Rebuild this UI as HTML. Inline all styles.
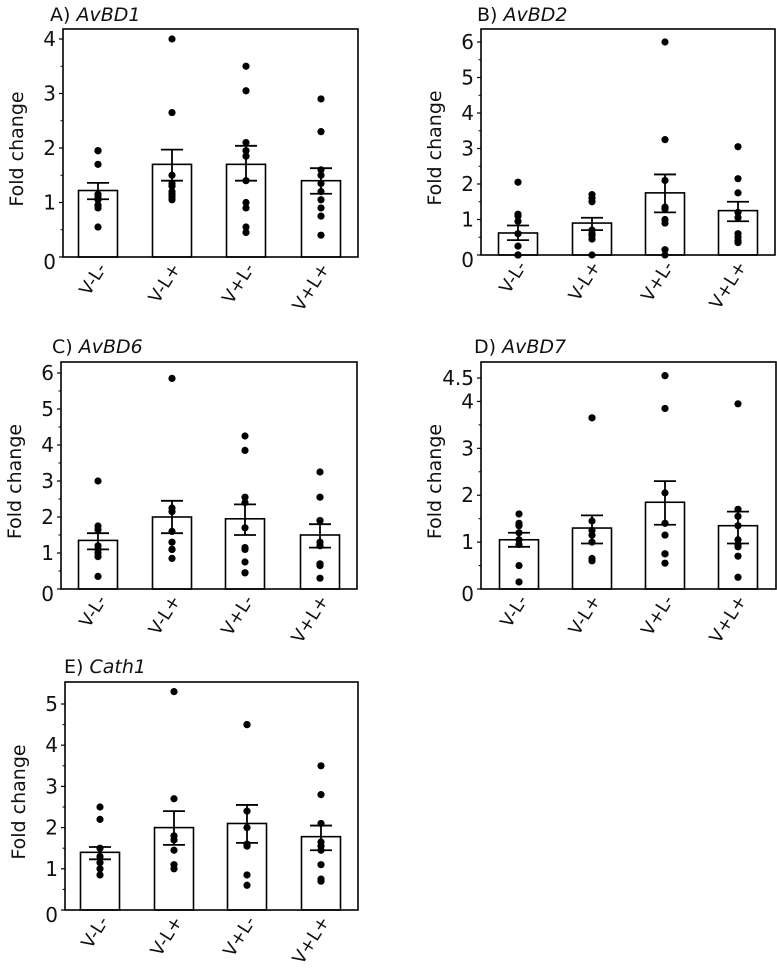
<!DOCTYPE html>
<html><head><meta charset="utf-8"><style>
html,body{margin:0;padding:0;background:#fff;}
svg{display:block;font-family:"DejaVu Sans","Liberation Sans",sans-serif;}
</style></head><body>
<svg id="chart" width="777" height="968" viewBox="0 0 777 968" xmlns="http://www.w3.org/2000/svg"></svg>
<script>
const categories = ["V-L-","V-L+","V+L-","V+L+"];
const panelLetters = ["A)","B)","C)","D)","E)"];
const geneNames = ["AvBD1","AvBD2","AvBD6","AvBD7","Cath1"];
const yTicksA = [0,1,2,3,4];
const yTicksB = [0,1,2,3,4,5,6];
const yTicksC = [0,1,2,3,4,5,6];
const yTicksD = [0,1,2,3,4,4.5];
const yTicksE = [0,1,2,3,4,5];
const meansA = [1.22,1.7,1.7,1.4];
const errLoA = [1.06,1.4,1.4,1.16];
const errHiA = [1.36,1.97,2.04,1.63];
const pointsA = [[1.95,1.95,1.7,1.15,1.1,1.05,0.95,0.9,0.55],[4.0,2.65,1.5,1.35,1.3,1.2,1.15,1.1,1.05],[3.5,3.05,2.1,1.95,1.85,1.4,1.0,0.9,0.55,0.45],[2.9,2.3,1.6,1.5,1.35,1.2,1.05,0.9,0.75,0.4]];
const meansB = [0.62,0.9,1.75,1.25];
const errLoB = [0.42,0.7,1.2,0.95];
const errHiB = [0.83,1.05,2.27,1.5];
const pointsB = [[2.05,1.15,1.1,0.95,0.6,0.25,0,0,0],[1.7,1.6,1.5,0.7,0.6,0.55,0.45,0],[6.0,3.25,2.1,1.35,1.3,1.0,0.9,0.15,0],[3.05,2.15,1.75,1.2,1.05,0.6,0.5,0.4,0.35]];
const meansC = [1.35,2.0,1.95,1.5];
const errLoC = [1.1,1.55,1.5,1.15];
const errHiC = [1.55,2.45,2.35,1.8];
const pointsC = [[3.0,1.75,1.65,1.2,1.1,1.0,0.9,0.35],[5.85,2.25,2.15,1.6,1.3,1.1,1.1,0.85],[4.25,3.85,2.55,2.4,1.7,1.15,1.1,0.75,0.45,0.45],[3.25,2.55,1.9,1.9,1.3,1.2,0.7,0.65,0.3]];
const meansD = [1.05,1.3,1.85,1.35];
const errLoD = [0.9,0.97,1.37,0.97];
const errHiD = [1.2,1.57,2.3,1.65];
const pointsD = [[1.6,1.4,1.35,1.2,1.05,0.95,0.5,0.15],[3.65,1.45,1.25,1.15,1.0,0.65,0.6],[4.55,3.85,2.05,1.4,1.15,0.75,0.75,0.55],[3.95,1.7,1.55,1.35,1.05,0.95,0.9,0.7,0.25]];
const meansE = [1.4,2.0,2.1,1.78];
const errLoE = [1.23,1.58,1.63,1.45];
const errHiE = [1.53,2.4,2.55,2.05];
const pointsE = [[2.5,2.2,1.5,1.3,1.15,1.0,0.85],[5.3,2.7,1.8,1.7,1.45,1.1,1.0],[4.5,4.5,2.4,2.0,1.6,1.55,0.85,0.6],[3.5,2.8,2.1,1.65,1.55,1.45,1.1,0.75,0.7]];

const NS="http://www.w3.org/2000/svg";
const svg=document.getElementById('chart');
function mk(tag,attrs,parent){const e=document.createElementNS(NS,tag);for(const k in attrs)e.setAttribute(k,attrs[k]);(parent||svg).appendChild(e);return e;}

const layouts=[
 {x0:63,x1:358,top:29,zero:257,tickTop:39,tMax:4,titleX:50,titleY:21,centers:[98,172,246,321]},
 {x0:481,x1:775,top:29,zero:255,tickTop:42,tMax:6,titleX:477,titleY:21,centers:[518,592,665,738]},
 {x0:61,x1:357,top:362,zero:589,tickTop:373,tMax:6,titleX:52,titleY:353,centers:[98,172,245,320]},
 {x0:481,x1:776,top:362,zero:589,tickTop:378,tMax:4.5,titleX:474,titleY:353,centers:[519,592,665,738]},
 {x0:65,x1:358,top:682,zero:910,tickTop:704,tMax:5,titleX:64,titleY:673,centers:[100,174,247,321]}
];
const ticksAll=[yTicksA,yTicksB,yTicksC,yTicksD,yTicksE];
const meansAll=[meansA,meansB,meansC,meansD,meansE];
const loAll=[errLoA,errLoB,errLoC,errLoD,errLoE];
const hiAll=[errHiA,errHiB,errHiC,errHiD,errHiE];
const ptsAll=[pointsA,pointsB,pointsC,pointsD,pointsE];

layouts.forEach((L,p)=>{
  const g=mk('g',{});
  
  
  const y=v=>L.zero-(L.zero-L.tickTop)*v/L.tMax;
  const xb=i=>L.centers[i];
  const t=mk('text',{x:L.titleX,y:L.titleY,'font-size':19,fill:'#111'},g);
  
  
  const t1=mk('tspan',{},t);t1.textContent=panelLetters[p]+' ';
  const t2=mk('tspan',{'font-style':'italic'},t);t2.textContent=geneNames[p];
  meansAll[p].forEach((m,i)=>{
    const r=mk('rect',{x:xb(i)-19.5,y:y(m),width:39,height:L.zero-y(m),fill:'#fff',stroke:'#000','stroke-width':1.6},g);
    
    
  });
  ptsAll[p].forEach((arr,i)=>{arr.forEach(v=>{
    const c=mk('circle',{cx:xb(i),cy:y(v),r:3.6,fill:'#000'},g);
    
    
  });});
  meansAll[p].forEach((m,i)=>{
    const lo=y(loAll[p][i]),hi=y(hiAll[p][i]),cx=xb(i);
    const e=mk('path',{d:`M${cx},${hi}V${lo}M${cx-11},${hi}H${cx+11}M${cx-11},${lo}H${cx+11}`,stroke:'#000','stroke-width':1.8,fill:'none'},g);
    
    
  });
  const f=mk('rect',{x:L.x0,y:L.top,width:L.x1-L.x0,height:L.zero-L.top,fill:'none',stroke:'#000','stroke-width':1.6},g);
  
  
  ticksAll[p].forEach(v=>{
    mk('line',{x1:L.x0-4,x2:L.x0,y1:y(v),y2:y(v),stroke:'#000','stroke-width':1.2},g);
    const tl=mk('text',{x:L.x0-7,y:y(v)+7+(v===0?5:0),'font-size':20,'text-anchor':'end',fill:'#111'},g);
    
    
    tl.textContent=String(v);
  });
  for(let v=0.5;v<L.tMax;v+=1){mk('line',{x1:L.x0-2.5,x2:L.x0,y1:y(v),y2:y(v),stroke:'#000','stroke-width':1},g);}
  const yt=mk('text',{x:0,y:0,'font-size':19,'text-anchor':'middle',fill:'#111',transform:`translate(${L.x0-40},${(L.top+L.zero)/2+6}) rotate(-90)`},g);
  
  
  yt.textContent='Fold change';
  categories.forEach((c,i)=>{
    const xl=mk('text',{x:0,y:0,'font-size':18,'text-anchor':'end',fill:'#111',transform:`translate(${xb(i)+9},${L.zero+11}) rotate(-58)`},g);
    
    
    xl.textContent=c;
  });
});
</script>
</body></html>
